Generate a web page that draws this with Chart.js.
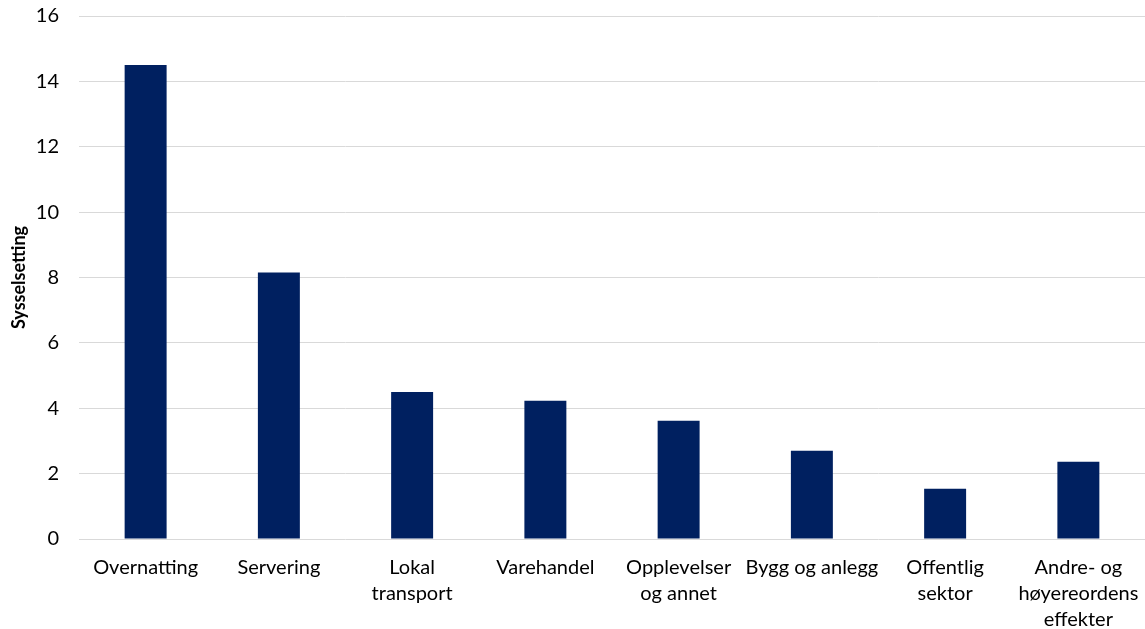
<!DOCTYPE html>
<html>
<head>
<meta charset="utf-8">
<script src="https://cdn.jsdelivr.net/npm/chart.js"></script>
<style>
  html, body { margin: 0; padding: 0; background: #fff; }
  #wrap { width: 1145px; height: 629px; }
</style>
</head>
<body>
<div id="wrap"><canvas id="sysselChart"></canvas></div>
<script>
// Categories and values
const categories = [
    'Overnatting',
    'Servering',
    ['Lokal', 'transport'],
    'Varehandel',
    ['Opplevelser', 'og annet'],
    'Bygg og anlegg',
    ['Offentlig', 'sektor'],
    ['Andre- og', 'høyereordens', 'effekter']
];
const sysselsetting = [14.5, 8.15, 4.5, 4.23, 3.62, 2.7, 1.54, 2.36];
const yTicks = [0, 2, 4, 6, 8, 10, 12, 14, 16];

const fontFamily = 'Lato, "Open Sans", sans-serif';

const ctx = document.getElementById('sysselChart').getContext('2d');
const chart = new Chart(ctx, {
    type: 'bar',
    data: {
        labels: categories,
        datasets: [{
            label: 'Sysselsetting',
            data: sysselsetting,
            backgroundColor: '#002060',
            borderWidth: 0,
            barPercentage: 0.315,
            categoryPercentage: 1.0
        }]
    },
    options: {
        responsive: true,
        maintainAspectRatio: false,
        animation: false,
        layout: { autoPadding: false, padding: { top: 16, right: 0, bottom: 0, left: 0 } },
        plugins: {
            legend: { display: false },
            tooltip: { enabled: false }
        },
        scales: {
            x: {
                grid: { display: false, drawTicks: false },
                border: { display: false },
                ticks: {
                    color: '#000',
                    font: { family: fontFamily, size: 20, lineHeight: 1.3 },
                    padding: 16,
                    maxRotation: 0,
                    autoSkip: false
                },
                afterFit: (scale) => {
                    scale.height = 90;
                    scale.paddingLeft = 0;
                    scale.paddingRight = 0;
                }
            },
            y: {
                min: 0,
                max: 16,
                afterBuildTicks: (scale) => { scale.ticks = yTicks.map(v => ({ value: v })); },
                grid: { color: '#d9d9d9', lineWidth: 1, drawTicks: false },
                border: { display: false },
                ticks: {
                    color: '#000',
                    font: { family: fontFamily, size: 20 },
                    padding: 20
                },
                title: {
                    display: true,
                    text: 'Sysselsetting',
                    color: '#000',
                    font: { family: fontFamily, size: 18, weight: 'bold' },
                    padding: { top: 8, bottom: 0 }
                },
                afterFit: (scale) => {
                    scale.width = 79;
                    scale.paddingTop = 0;
                    scale.paddingBottom = 0;
                }
            }
        }
    }
});
</script>
</body>
</html>
